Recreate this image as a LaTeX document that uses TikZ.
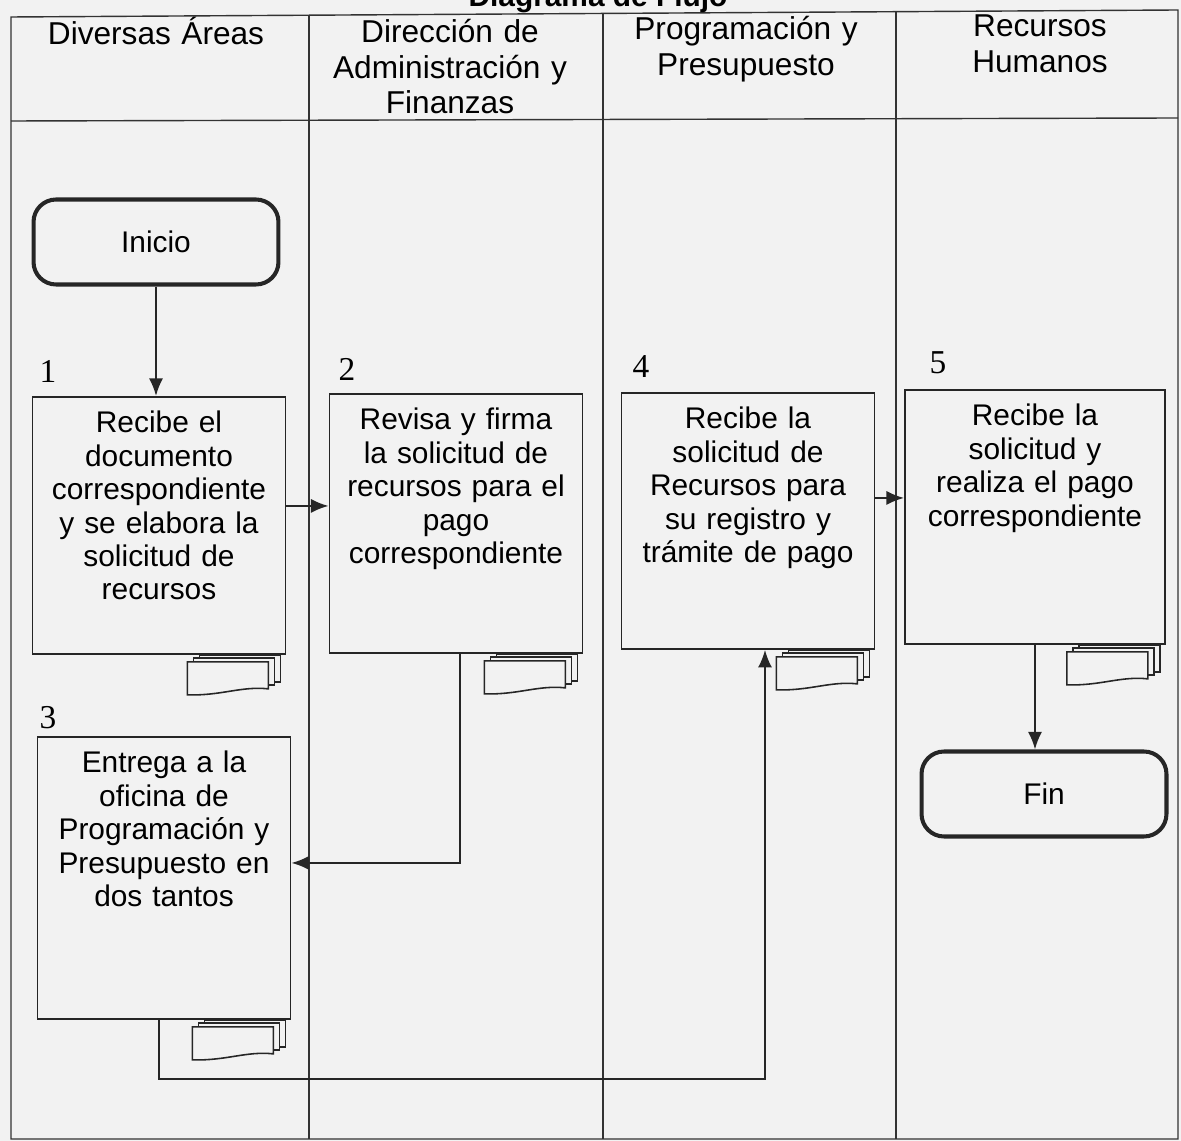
\documentclass[tikz,border=0pt]{standalone}
\usepackage{fontspec}
\setmainfont{Liberation Sans}
\newfontfamily\numfont{Liberation Serif}
\usetikzlibrary{arrows.meta,calc,positioning}

\tikzset{
  lane/.style={line width=0.8pt,draw=black!80},
  head/.style={text width=5.6cm,align=center,inner sep=0pt,anchor=base,font=\fontsize{18}{20}\selectfont},
  proc/.style={draw=black!85,line width=1.1pt,fill=black!5,text width=4.6cm,align=center,
    inner xsep=0.23cm,inner ysep=0.22cm,text height=0.5cm,anchor=north,font=\fontsize{17}{19}\selectfont},
  term/.style={draw=black!85,line width=2.3pt,rounded corners=0.45cm,fill=black!5,
    minimum width=4.9cm,minimum height=1.7cm,font=\fontsize{17}{19}\selectfont},
  num/.style={font=\numfont\fontsize{19}{19}\selectfont,anchor=base},
  flow/.style={draw=black!85,line width=1.1pt,-{Latex[length=10pt,width=8pt]}},
  sheet/.style={draw=black!85,line width=0.9pt,fill=black!5}
}

\begin{document}
\begin{tikzpicture}[x=0.02cm,y=-0.02cm]
	\useasboundingbox (0,0) rectangle (1181,1141);
	\fill[black!5] (0,0) rectangle (1181,1141);
	% lanes
	\draw[lane] (11,17) -- (1178,10) -- (1178,1139) -- (11,1139) -- cycle;
	\draw[lane] (11,121) -- (1178,118);
	\foreach \x/\y in {309/15,603/13,896/12} \draw[lane] (\x,\y) -- (\x,1139);
	\node[font=\bfseries\fontsize{17}{19}\selectfont,anchor=base] (title) at (598,7) {Diagrama de Flujo};
	\node[head] (h1) at (156,45) {Diversas Áreas};
	\node[head] (h2) at (450,43) {Dirección de\\Administración y\\Finanzas};
	\node[head] (h3) at (746,40) {Programación y\\Presupuesto};
	\node[head] (h4) at (1040,37) {Recursos\\Humanos};
	% steps
	\node[term] (start) at (156,242) {Inicio};
	\node[proc,text depth=4.20cm] (r1) at (159,396) {Recibe el\\documento\\correspondiente\\y se elabora la\\solicitud de\\recursos};
	\node[proc,text depth=4.24cm] (r2) at (456,393) {Revisa y firma\\la solicitud de\\recursos para el\\pago\\correspondiente};
	\node[proc,text depth=4.70cm] (r3) at (164,736) {Entrega a la\\oficina de\\Programación y\\Presupuesto en\\dos tantos};
	\node[proc,text depth=4.18cm] (r4) at (748,392) {Recibe la\\solicitud de\\Recursos para\\su registro y\\trámite de pago};
	\node[proc,text depth=4.14cm,text width=4.74cm] (r5) at (1035,389) {Recibe la\\solicitud y\\realiza el pago\\correspondiente};
	\node[term] (fin) at (1044,794) {Fin};
	\node[num] (n1) at (48,383) {1};
	\node[num] (n2) at (347,381) {2};
	\node[num] (n3) at (48,729) {3};
	\node[num] (n4) at (641,378) {4};
	\node[num] (n5) at (938,374) {5};
	% document stacks
	\foreach \b in {r1,r2,r3,r4,r5} {
		\draw[sheet] ($(\b.south east)+(-87,0)$) rectangle ($(\b.south east)+(-6,27)$);
		\draw[sheet] ($(\b.south east)+(-93,3)$) rectangle ($(\b.south east)+(-12,30)$);
		\draw[sheet] ($(\b.south east)+(-99,7)$) -- ($(\b.south east)+(-18,7)$) -- ($(\b.south east)+(-18,34)$)
			.. controls ($(\b.south east)+(-45,31)$) and ($(\b.south east)+(-65,41)$) .. ($(\b.south east)+(-99,40)$) -- cycle;
	}
	% arrows
	\draw[flow] (start.south) -- (start.south |- r1.north);
	\draw[flow] ([yshift=0.39cm]r1.east) -- ([yshift=0.39cm]r1.east -| r2.west);
	\draw[flow] ([xshift=0.08cm]r2.south) |- ([yshift=0.3cm]r3.east);
	\draw[flow] ([xshift=-0.1cm]r3.south) -- ++(0,59) -| ([xshift=0.34cm]r4.south);
	\draw[flow] ([yshift=0.46cm]r4.east) -- ([yshift=0.46cm]r4.east -| r5.west);
	\draw[flow] (r5.south) -- (r5.south |- fin.north);
\end{tikzpicture}
\end{document}
